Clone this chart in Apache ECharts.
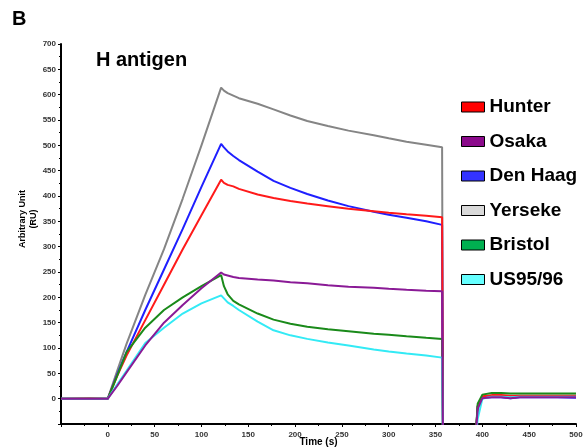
<!DOCTYPE html>
<html>
<head>
<meta charset="utf-8">
<script src="https://cdn.jsdelivr.net/npm/echarts@6/dist/echarts.min.js"></script>
<style>
  html, body { margin: 0; padding: 0; background: #fff; }
  #chart { width: 583px; height: 447px; }
</style>
</head>
<body>
<div id="chart"></div>
<script>
// time points (s); null values make the gap after the regeneration step
const times = [-50, -20, 0, 10, 20, 40, 60, 80, 100, 121, 124, 128, 134, 140, 160, 177, 195, 213, 235, 257, 284, 300, 319, 340, 357, 358, 375, 392, 395, 400, 410, 420, 430, 440, 460, 480, 500];

const hunter   = [0, 1, 0, 45, 85, 155, 225, 295, 362, 432, 426, 422, 419, 414, 403, 396, 390, 385, 380, 375, 370, 367, 364, 361, 358, -100, null, -100, -15, 5, 7, 7, 6, 6, 6, 6, 6];
const osaka    = [0, 0, 0, 25, 52, 105, 150, 185, 218, 249, 245, 243, 240, 238, 235, 233, 230, 228, 224, 221, 219, 217, 215, 213, 212, -100, null, -100, -20, 1, 3, 3, 1, 3, 3, 3, 3];
const denHaag  = [0, 0, 0, 48, 92, 175, 255, 335, 418, 503, 496, 488, 479, 471, 448, 430, 416, 404, 391, 380, 369, 363, 357, 350, 343, -100, null, -100, -15, 2, 3, 3, 1, 3, 3, 3, 2];
const yerseke  = [0, 0, 0, 55, 108, 205, 295, 395, 500, 614, 608, 603, 598, 593, 582, 571, 559, 548, 538, 529, 520, 514, 507, 501, 496, -100, null, -100, -15, 4, 6, 6, 5, 6, 6, 6, 6];
const bristol  = [0, 0, 0, 45, 92, 140, 175, 200, 222, 244, 222, 206, 193, 186, 168, 156, 148, 142, 137, 133, 128, 126, 123, 120, 118, -100, null, -100, -10, 8, 11, 11, 10, 10, 10, 10, 10];
const us9596   = [0, 0, 0, 28, 55, 110, 140, 168, 188, 204, 198, 190, 183, 175, 152, 135, 125, 118, 111, 105, 97, 93, 89, 85, 81, -100, null, -100, -40, 0, 4, 4, 3, 4, 4, 4, 4];

const legendNames = ["Hunter", "Osaka", "Den Haag", "Yerseke", "Bristol", "US95/96"];

function pairs(values) {
  return times.map((t, i) => [t, values[i]]);
}

function makeSeries(name, values, lineColor, boxColor) {
  return {
    name: name,
    type: "line",
    data: pairs(values),
    showSymbol: false,
    symbol: "none",
    connectNulls: false,
    lineStyle: { color: lineColor, width: 2 },
    itemStyle: { color: boxColor },
    emphasis: { disabled: true },
    z: 2
  };
}

const chart = echarts.init(document.getElementById("chart"));

chart.setOption({
  animation: false,
  textStyle: { fontFamily: "Liberation Sans, Arial, sans-serif" },
  title: [
    { text: "B", left: 7, top: 4, textStyle: { fontSize: 20, fontWeight: "bold", color: "#000" } },
    { text: "H antigen", left: 91, top: 45, textStyle: { fontSize: 20, fontWeight: "bold", color: "#000" } }
  ],
  legend: {
    data: legendNames,
    orient: "vertical",
    left: 456,
    top: 92,
    icon: "rect",
    itemWidth: 23,
    itemHeight: 10,
    itemGap: 14.5,
    selectedMode: false,
    itemStyle: { borderColor: "#000", borderWidth: 1 },
    textStyle: { fontSize: 19, fontWeight: "bold", color: "#000", lineHeight: 20, padding: [0, 0, 0, 0] }
  },
  grid: { left: 61, right: 7, top: 44, bottom: 23, outerBoundsMode: "none" },
  xAxis: {
    type: "value",
    min: -50,
    max: 500,
    interval: 50,
    name: "Time (s)",
    nameLocation: "middle",
    nameGap: 13,
    nameMoveOverlap: false,
    nameTextStyle: { fontSize: 10, fontWeight: "bold", color: "#000" },
    axisLine: { onZero: false, lineStyle: { color: "#000", width: 2 } },
    axisTick: { length: 3, lineStyle: { color: "#000" } },
    minorTick: { show: true, splitNumber: 2, length: 2, lineStyle: { color: "#000" } },
    axisLabel: {
      fontSize: 8, fontWeight: "bold", color: "#333", margin: 7,
      formatter: v => (v === -50 ? "" : String(v))
    },
    splitLine: { show: false }
  },
  yAxis: {
    type: "value",
    min: -50,
    max: 700,
    interval: 50,
    name: "Arbitrary Unit\n(RU)",
    nameLocation: "middle",
    nameGap: 22,
    nameMoveOverlap: false,
    nameTextStyle: { fontSize: 9, fontWeight: "bold", color: "#000", lineHeight: 11, padding: [0, 0, 0, 30] },
    axisLine: { show: true, onZero: false, lineStyle: { color: "#000", width: 2 } },
    axisTick: { show: true, length: 3, lineStyle: { color: "#000" } },
    minorTick: { show: true, splitNumber: 2, length: 2, lineStyle: { color: "#000" } },
    axisLabel: {
      fontSize: 8, fontWeight: "bold", color: "#333", margin: 5,
      formatter: v => (v === -50 ? "" : String(v))
    },
    splitLine: { show: false }
  },
  series: [
    makeSeries("Yerseke", yerseke, "#858585", "#d9d9d9"),
    makeSeries("Den Haag", denHaag, "#1f1fff", "#3333ff"),
    makeSeries("Hunter", hunter, "#ff1a1a", "#ff0000"),
    makeSeries("Bristol", bristol, "#1a8a1a", "#00b050"),
    makeSeries("US95/96", us9596, "#33eaf5", "#66ffff"),
    makeSeries("Osaka", osaka, "#8a1a96", "#8b0a8b")
  ]
});
</script>
</body>
</html>
